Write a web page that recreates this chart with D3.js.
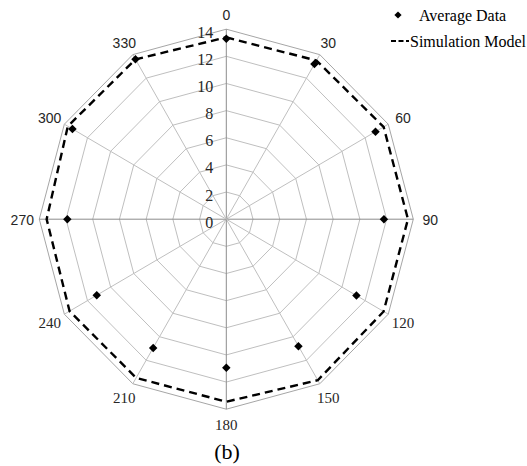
<!DOCTYPE html>
<html><head><meta charset="utf-8">
<script src="https://cdn.jsdelivr.net/npm/d3@7"></script>
<style>body{margin:0;background:#fff}svg{display:block}</style>
</head><body>
<svg id="c" width="527" height="466"></svg>
<script>
const angles = [0,30,60,90,120,150,180,210,240,270,300,330];
const averageData = [13.3, 13.2, 12.9, 11.8, 11.25, 10.8, 10.95, 10.95, 11.2, 11.9, 13.3, 13.6];
const simulationModel = [13.4, 13.5, 13.6, 13.6, 13.6, 13.7, 13.45, 13.5, 13.55, 13.45, 13.7, 13.6];
const ticks = [0,2,4,6,8,10,12,14];
const sansAngles = [0,30,60,90,270,300,330];

const svg = d3.select("#c");
const cx = 226.3, cy = 219.2;
const rx = d3.scaleLinear().domain([0,14]).range([0,187]);
const ry = d3.scaleLinear().domain([0,14]).range([0,190]);
const rad = d => d * Math.PI / 180;
const px = (a, v) => cx + rx(v) * Math.sin(rad(a));
const py = (a, v) => cy - ry(v) * Math.cos(rad(a));

const g = svg.append("g");
ticks.slice(1).forEach(t => {
  g.append("path")
    .attr("d", d3.line()(angles.map(a => [px(a,t), py(a,t)])) + "Z")
    .attr("fill","none")
    .attr("stroke", t === 14 ? "#a6a6a6" : "#bfbfbf")
    .attr("stroke-width", 1);
});
angles.forEach(a => {
  g.append("line")
    .attr("x1", cx).attr("y1", cy)
    .attr("x2", px(a,14)).attr("y2", py(a,14))
    .attr("stroke", (a % 90 === 0) ? "#8c8c8c" : "#bfbfbf")
    .attr("stroke-width", 1);
});
ticks.forEach(t => {
  g.append("text")
    .attr("x", cx - 13).attr("y", cy - ry(t) + 3)
    .attr("text-anchor","end").attr("dominant-baseline","central")
    .attr("font-family","Liberation Serif").attr("font-size", 16)
    .attr("fill","#262626")
    .text(t);
});
angles.forEach(a => {
  const sans = sansAngles.includes(a);
  g.append("text")
    .attr("x", cx + 204 * Math.sin(rad(a)))
    .attr("y", cy - 205 * Math.cos(rad(a)) + 1)
    .attr("text-anchor","middle").attr("dominant-baseline","central")
    .attr("font-family", sans ? "Liberation Sans" : "Liberation Serif")
    .attr("font-size", sans ? 14 : 15)
    .attr("fill","#262626")
    .text(a);
});
svg.append("path")
  .attr("d", d3.line()(angles.map((a,i) => [px(a, simulationModel[i]), py(a, simulationModel[i])])) + "Z")
  .attr("fill","none").attr("stroke","#000").attr("stroke-width",2.4)
  .attr("stroke-dasharray","8,5");
const diamond = d3.symbol().type(d3.symbolSquare).size(36);
angles.forEach((a,i) => {
  svg.append("path")
    .attr("d", diamond())
    .attr("transform", `translate(${px(a, averageData[i])},${py(a, averageData[i])}) rotate(45)`)
    .attr("fill","#000");
});
const lg = svg.append("g");
lg.append("path").attr("d", d3.symbol().type(d3.symbolSquare).size(26)()).attr("transform","translate(398,15) rotate(45)").attr("fill","#000");
lg.append("text").attr("x",419).attr("y",15).attr("dominant-baseline","central")
  .attr("font-family","Liberation Serif").attr("font-size",16).attr("fill","#000").text("Average Data");
lg.append("line").attr("x1",391).attr("x2",409).attr("y1",41).attr("y2",41)
  .attr("stroke","#000").attr("stroke-width",2.2).attr("stroke-dasharray","5,2.5");
lg.append("text").attr("x",410).attr("y",41).attr("dominant-baseline","central")
  .attr("font-family","Liberation Serif").attr("font-size",16).attr("fill","#000").text("Simulation Model");
svg.append("text").attr("x",227).attr("y",451).attr("text-anchor","middle").attr("dominant-baseline","central")
  .attr("font-family","Liberation Serif").attr("font-size",22).attr("fill","#000").text("(b)");
</script>
</body></html>
